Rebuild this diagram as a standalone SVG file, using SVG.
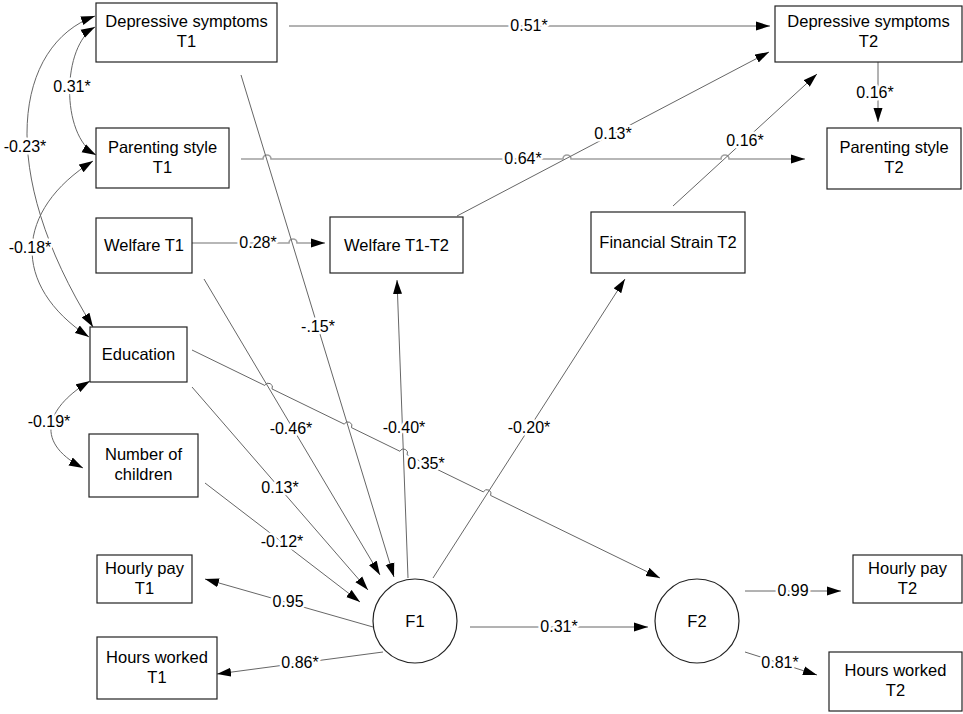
<svg xmlns="http://www.w3.org/2000/svg" width="963" height="714" viewBox="0 0 963 714">
<style>
.box{fill:#fff;stroke:#222;stroke-width:1.2}
.nt{font-family:"Liberation Sans",Arial,sans-serif;font-size:16.5px;fill:#000;text-anchor:middle}
.ln{fill:none;stroke:#666;stroke-width:1}
.lt{fill:none;stroke:#a0a0a0;stroke-width:1.6}
.lb{font-family:"Liberation Sans",Arial,sans-serif;font-size:16px;fill:#000;text-anchor:middle;stroke:#fff;stroke-width:5;paint-order:stroke;stroke-linejoin:round}
</style>
<defs>
<marker id="ah" markerUnits="userSpaceOnUse" viewBox="0 0 15 10" markerWidth="15" markerHeight="10" refX="14" refY="5" orient="auto-start-reverse">
<path d="M0,0.5 L14,5 L0,9.5 z" fill="#000"/>
</marker>
</defs>
<rect width="963" height="714" fill="#fff"/>
<g id="connectors">
<path class="ln" d="M289,26 H770" marker-end="url(#ah)"/>
<path class="lt" d="M241,159 H263 A4,4 0 0 1 271,159 H563 A4,4 0 0 1 571,159 H721 A4,4 0 0 1 729,159 H805" marker-end="url(#ah)"/>
<path class="lt" d="M192,243 H289 A4,4 0 0 1 297,243 H325" marker-end="url(#ah)"/>
<path class="ln" d="M878,62 V122" marker-end="url(#ah)"/>
<path class="ln" d="M457,216 L769,52" marker-end="url(#ah)"/>
<path class="ln" d="M673,206 L817,74" marker-end="url(#ah)"/>
<path class="ln" d="M241,75 L394,577" marker-end="url(#ah)"/>
<path class="ln" d="M204,279 L380,575" marker-end="url(#ah)"/>
<path class="ln" d="M192,387 L368,590" marker-end="url(#ah)"/>
<path class="ln" d="M205,483 L360,602" marker-end="url(#ah)"/>
<path class="ln" d="M408,578 L397,280" marker-end="url(#ah)"/>
<path class="ln" d="M433,578 L625,279" marker-end="url(#ah)"/>
<path class="ln" d="M192,350 L264.8,385.45 A4,4 0 0 1 272,388.95 L344.3,424.15 A4,4 0 0 1 351.5,427.65 L399.9,451.25 A4,4 0 0 1 407.1,454.75 L483.4,491.95 A4,4 0 0 1 490.6,495.45 L660,578" marker-end="url(#ah)"/>
<path class="ln" d="M470,627 H648" marker-end="url(#ah)"/>
<path class="ln" d="M373,627 L205,579" marker-end="url(#ah)"/>
<path class="ln" d="M383,652 L217,674" marker-end="url(#ah)"/>
<path class="ln" d="M745,591 H841" marker-end="url(#ah)"/>
<path class="ln" d="M745,652 L817,675" marker-end="url(#ah)"/>
<path class="ln" d="M95,27 C62,45 60,135 96,155" marker-start="url(#ah)" marker-end="url(#ah)"/>
<path class="ln" d="M95,16 C15,45 -5,170 93,327" marker-start="url(#ah)" marker-end="url(#ah)"/>
<path class="ln" d="M93,161 C15,210 10,285 89,337" marker-start="url(#ah)" marker-end="url(#ah)"/>
<path class="ln" d="M90,381 C50,405 30,440 83,468" marker-start="url(#ah)" marker-end="url(#ah)"/>
<text class="lb" x="529" y="31">0.51*</text>
<text class="lb" x="523" y="164">0.64*</text>
<text class="lb" x="613" y="139">0.13*</text>
<text class="lb" x="745" y="146">0.16*</text>
<text class="lb" x="875" y="98">0.16*</text>
<text class="lb" x="258" y="248">0.28*</text>
<text class="lb" x="318" y="332">-.15*</text>
<text class="lb" x="291" y="434">-0.46*</text>
<text class="lb" x="404" y="433">-0.40*</text>
<text class="lb" x="529" y="433">-0.20*</text>
<text class="lb" x="426" y="469">0.35*</text>
<text class="lb" x="280" y="493">0.13*</text>
<text class="lb" x="282" y="547">-0.12*</text>
<text class="lb" x="288" y="607">0.95</text>
<text class="lb" x="300" y="668">0.86*</text>
<text class="lb" x="559" y="632">0.31*</text>
<text class="lb" x="793" y="596">0.99</text>
<text class="lb" x="780" y="668">0.81*</text>
<text class="lb" x="72" y="92">0.31*</text>
<text class="lb" x="25" y="152">-0.23*</text>
<text class="lb" x="30" y="253">-0.18*</text>
<text class="lb" x="49" y="427">-0.19*</text>
</g>
<g id="dep1"><rect class="box" x="96" y="3" width="181" height="59"/><text class="nt" x="186.5" y="27">Depressive symptoms</text><text class="nt" x="186.5" y="47">T1</text></g>
<g id="par1"><rect class="box" x="96" y="128" width="133" height="60"/><text class="nt" x="162.5" y="153">Parenting style</text><text class="nt" x="162.5" y="173">T1</text></g>
<g id="wel1"><rect class="box" x="96" y="218" width="96" height="55"/><text class="nt" x="144" y="251">Welfare T1</text></g>
<g id="edu"><rect class="box" x="90" y="327" width="97" height="55"/><text class="nt" x="138.5" y="360">Education</text></g>
<g id="nch"><rect class="box" x="89" y="434" width="109" height="63"/><text class="nt" x="143.5" y="460">Number of</text><text class="nt" x="143.5" y="480">children</text></g>
<g id="hp1"><rect class="box" x="97" y="555" width="95" height="48"/><text class="nt" x="144.5" y="574">Hourly pay</text><text class="nt" x="144.5" y="594">T1</text></g>
<g id="hw1"><rect class="box" x="97" y="637" width="120" height="62"/><text class="nt" x="157" y="663">Hours worked</text><text class="nt" x="157" y="683">T1</text></g>
<g id="wel12"><rect class="box" x="330" y="217" width="133" height="56"/><text class="nt" x="396.5" y="251">Welfare T1-T2</text></g>
<g id="fin"><rect class="box" x="591" y="212" width="154" height="61"/><text class="nt" x="668" y="248">Financial Strain T2</text></g>
<g id="dep2"><rect class="box" x="775" y="6" width="187" height="56"/><text class="nt" x="868.5" y="27">Depressive symptoms</text><text class="nt" x="868.5" y="47">T2</text></g>
<g id="par2"><rect class="box" x="827" y="128" width="134" height="61"/><text class="nt" x="894" y="153">Parenting style</text><text class="nt" x="894" y="173">T2</text></g>
<g id="hp2"><rect class="box" x="853" y="555" width="109" height="48"/><text class="nt" x="907.5" y="574">Hourly pay</text><text class="nt" x="907.5" y="594">T2</text></g>
<g id="hw2"><rect class="box" x="829" y="652" width="133" height="59"/><text class="nt" x="895.5" y="676">Hours worked</text><text class="nt" x="895.5" y="696">T2</text></g>
<g id="f1"><circle class="box" cx="415" cy="621" r="42"/><text class="nt" x="415" y="627">F1</text></g>
<g id="f2"><circle class="box" cx="697" cy="621" r="42"/><text class="nt" x="697" y="627">F2</text></g>
</svg>
